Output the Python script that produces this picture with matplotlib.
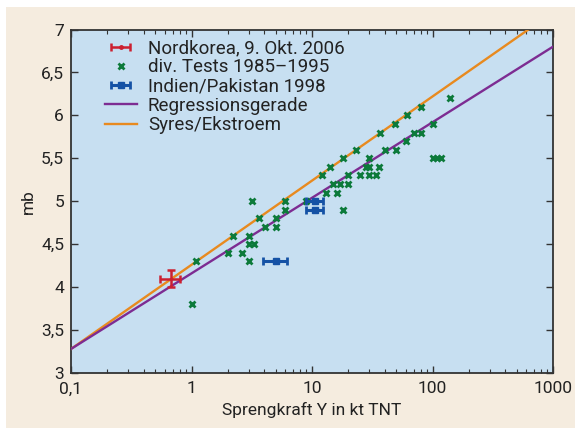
import matplotlib
matplotlib.use("Agg")
import matplotlib.pyplot as plt
from matplotlib.patches import Rectangle
import numpy as np

plt.rcParams['font.family'] = ['Liberation Sans Narrow', 'DejaVu Sans Condensed',
                               'Roboto', 'DejaVu Sans']

# Nordkorea, 9. Okt. 2006
nk_x, nk_y = 0.67, 4.1
nk_xerr = [[0.12], [0.14]]
nk_yerr = 0.1

# div. Tests 1985-1995
tests_x = [1.0, 1.1, 2.0, 2.2, 2.6, 3.0, 3.0, 3.3, 3.0, 3.2, 3.6, 4.05, 5.0, 5.0,
           6.0, 6.0, 9.0, 12, 13, 14, 15, 16, 17, 18, 18, 20, 20, 23, 25, 28, 30,
           30, 30, 34, 36, 37, 40, 49, 50, 61, 60, 70, 81, 81, 100, 101, 108,
           117, 140]
tests_y = [3.8, 4.3, 4.4, 4.6, 4.4, 4.6, 4.5, 4.5, 4.3, 5.0, 4.8, 4.7, 4.8, 4.7,
           5.0, 4.9, 5.0, 5.3, 5.1, 5.4, 5.2, 5.1, 5.2, 5.5, 4.9, 5.3, 5.2, 5.6,
           5.3, 5.4, 5.5, 5.4, 5.3, 5.3, 5.4, 5.8, 5.6, 5.9, 5.6, 6.0, 5.7, 5.8,
           6.1, 5.8, 5.9, 5.5, 5.5, 5.5, 6.2]

# Indien/Pakistan 1998
ip_x = [5.0, 10.5, 10.5]
ip_y = [4.3, 5.0, 4.9]
ip_xlo = [3.95, 9.0, 9.0]
ip_xhi = [6.15, 12.3, 12.3]

# Regressionsgerade und Syres/Ekstroem: mb = a + b*log10(Y)
reg_a, reg_b = 4.16, 0.88
se_a, se_b = 4.26, 0.98

yticks = [3, 3.5, 4, 4.5, 5, 5.5, 6, 6.5, 7]
ytick_labels = ['3', '3,5', '4', '4,5', '5', '5,5', '6', '6,5', '7']
xticks = [0.1, 1, 10, 100, 1000]
xtick_labels = ['0,1', '1', '10', '100', '1000']

RED, GREEN, BLUE = '#cc2030', '#0c7a3a', '#1552a5'
PURPLE, ORANGE = '#7d2c92', '#e88a1f'
FS = 12.5

fig = plt.figure(figsize=(5.78, 4.3), dpi=100, facecolor='white')
fig.patches.append(Rectangle((6 / 578, 2 / 430), 569 / 578, 421 / 430,
                             transform=fig.transFigure, facecolor='#f5ecdf',
                             edgecolor='none', zorder=-10))
ax = fig.add_axes([71 / 578, 57 / 430, 482 / 578, 343.5 / 430])
ax.set_facecolor('#c7dff1')

xs = np.logspace(-1, 3, 200)
h_se, = ax.plot(xs, se_a + se_b * np.log10(xs), color=ORANGE, lw=1.7, zorder=3)
h_reg, = ax.plot(xs, reg_a + reg_b * np.log10(xs), color=PURPLE, lw=1.7, zorder=3)

h_tests, = ax.plot(tests_x, tests_y, 'x', color=GREEN, ms=4.5, mew=2,
                   linestyle='none', zorder=4)

ip_err = [np.array(ip_x) - np.array(ip_xlo), np.array(ip_xhi) - np.array(ip_x)]
h_ip = ax.errorbar(ip_x, ip_y, xerr=ip_err, fmt='s', color=BLUE, ms=4,
                   lw=2.2, capsize=3, capthick=2, zorder=5)

ax.errorbar([nk_x], [nk_y], xerr=nk_xerr, yerr=nk_yerr, fmt='none',
            color=RED, lw=1.8, capsize=3, capthick=1.8, zorder=6)
# legend proxy for the North Korea entry (horizontal bar with a dot)
h_nk = ax.errorbar([np.nan], [np.nan], xerr=[0.1], fmt='o', ms=2.5, color=RED,
                   lw=1.8, capsize=3, capthick=1.8)

ax.set_xscale('log')
ax.set_xlim(0.1, 1000)
ax.set_ylim(3, 7)
ax.set_xticks(xticks)
ax.set_xticklabels(xtick_labels)
ax.set_yticks(yticks)
ax.set_yticklabels(ytick_labels)
ax.tick_params(which='both', direction='in', top=True, right=True,
               color='#333333', labelsize=FS, labelcolor='#222222')
ax.tick_params(which='major', length=5, width=1)
ax.tick_params(which='minor', length=3, width=0.8)
ax.tick_params(axis='y', which='minor', left=False, right=False)
ax.tick_params(axis='x', pad=6)
ax.tick_params(axis='y', pad=5)
for s in ax.spines.values():
    s.set_color('#333333')
    s.set_linewidth(1.3)

ax.set_xlabel('Sprengkraft Y in kt TNT', fontsize=FS, color='#222222', labelpad=4)
ax.set_ylabel('mb', fontsize=FS, color='#222222', labelpad=4)

labels = ['Nordkorea, 9. Okt. 2006', 'div. Tests 1985\u20131995',
          'Indien/Pakistan 1998', 'Regressionsgerade', 'Syres/Ekstroem']
ax.legend([h_nk, h_tests, h_ip, h_reg, h_se], labels, loc='upper left',
          bbox_to_anchor=(0.07, 0.972), frameon=False, fontsize=13.5,
          borderpad=0, borderaxespad=0, labelspacing=0.07, handlelength=1.7,
          handletextpad=0.6, labelcolor='#222222')

fig.savefig('out.png', dpi=100, facecolor=fig.get_facecolor())
